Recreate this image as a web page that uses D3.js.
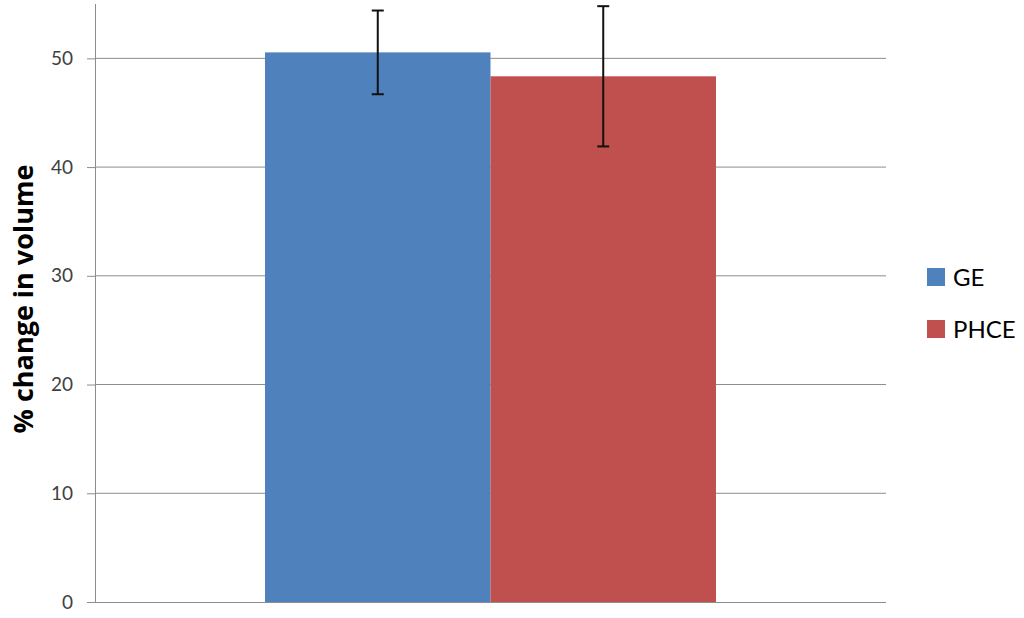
<!DOCTYPE html>
<html>
<head>
    <meta charset="utf-8">
    <title>% change in volume</title>
    <script src="https://d3js.org/d3.v7.min.js"></script>
    <style>
        body { margin: 0; background: #fff; }
        text { font-family: Lato, "Open Sans", sans-serif; }
    </style>
</head>
<body>
<div id="chart"></div>
<script>
    // data
    var groups = [""];
    var series = ["GE", "PHCE"];
    var values = [50.55, 48.35];
    var errors = [3.85, 6.45];
    var colors = ["#4f81bd", "#c0504d"];
    var yTicks = [0, 10, 20, 30, 40, 50];

    var W = 1024, H = 618;
    var margin = {top: 4, right: 138, bottom: 16, left: 95};
    var width = W - margin.left - margin.right,
        height = H - margin.top - margin.bottom;

    var svg = d3.select("#chart").append("svg")
        .attr("width", W)
        .attr("height", H);

    var g = svg.append("g")
        .attr("transform", "translate(" + margin.left + "," + margin.top + ")");

    var y = d3.scaleLinear().domain([0, 55]).range([height, 0]);

    var x0 = d3.scaleBand().domain(groups).range([0, width])
        .paddingInner(0).paddingOuter(0.377);
    var x1 = d3.scaleBand().domain(series).range([0, x0.bandwidth()]).padding(0);

    // gridlines
    g.selectAll("line.grid")
        .data(yTicks.filter(function(d) { return d > 0; }))
        .enter().append("line")
        .attr("class", "grid")
        .attr("x1", 0).attr("x2", width)
        .attr("y1", function(d) { return y(d); })
        .attr("y2", function(d) { return y(d); })
        .attr("stroke", "#8c8c8c")
        .attr("stroke-width", 1);

    // bars
    var rows = series.map(function(s, i) {
        return {group: groups[0], key: s, value: values[i], err: errors[i], color: colors[i]};
    });

    g.selectAll("rect.bar")
        .data(rows)
        .enter().append("rect")
        .attr("class", "bar")
        .attr("x", function(d) { return x0(d.group) + x1(d.key); })
        .attr("y", function(d) { return y(d.value); })
        .attr("width", x1.bandwidth())
        .attr("height", function(d) { return y(0) - y(d.value); })
        .attr("fill", function(d) { return d.color; });

    // error bars
    var eb = g.selectAll("g.err")
        .data(rows)
        .enter().append("g")
        .attr("class", "err")
        .attr("transform", function(d) {
            return "translate(" + (x0(d.group) + x1(d.key) + x1.bandwidth() / 2) + ",0)";
        });
    eb.append("line")
        .attr("y1", function(d) { return y(d.value + d.err); })
        .attr("y2", function(d) { return y(d.value - d.err); })
        .attr("stroke", "#111").attr("stroke-width", 2);
    eb.selectAll("line.cap")
        .data(function(d) { return [d.value + d.err, d.value - d.err]; })
        .enter().append("line")
        .attr("class", "cap")
        .attr("x1", -6).attr("x2", 6)
        .attr("y1", function(v) { return y(v); })
        .attr("y2", function(v) { return y(v); })
        .attr("stroke", "#111").attr("stroke-width", 2);

    // y axis
    var yAxis = g.append("g")
        .call(d3.axisLeft(y).tickValues(yTicks).tickSize(8).tickPadding(14).tickFormat(d3.format("d")));
    yAxis.select(".domain").attr("stroke", "#8c8c8c").attr("d", "M0.5," + height + "V0");
    yAxis.selectAll(".tick line").attr("stroke", "#8c8c8c");
    yAxis.selectAll(".tick text")
        .attr("fill", "#404040")
        .style("font-size", "19px")
        .style("font-family", "Lato, 'Open Sans', sans-serif");

    // x axis baseline
    g.append("line")
        .attr("x1", 0).attr("x2", width)
        .attr("y1", y(0) + 0.5).attr("y2", y(0) + 0.5)
        .attr("stroke", "#8c8c8c");

    // y title
    svg.append("text")
        .attr("transform", "translate(33,299) rotate(-90)")
        .attr("text-anchor", "middle")
        .style("font-family", "'Open Sans', sans-serif")
        .style("font-size", "27px")
        .style("font-weight", "bold")
        .attr("fill", "#000")
        .text("% change in volume");

    // legend
    var legend = svg.append("g")
        .attr("transform", "translate(927,268)");
    var li = legend.selectAll("g")
        .data(series)
        .enter().append("g")
        .attr("transform", function(d, i) { return "translate(0," + (i * 52) + ")"; });
    li.append("rect")
        .attr("width", 18).attr("height", 18)
        .attr("fill", function(d, i) { return colors[i]; });
    li.append("text")
        .attr("x", 26).attr("y", 18)
        .style("font-size", "24px")
        .attr("fill", "#000")
        .text(function(d) { return d; });
</script>
</body>
</html>
